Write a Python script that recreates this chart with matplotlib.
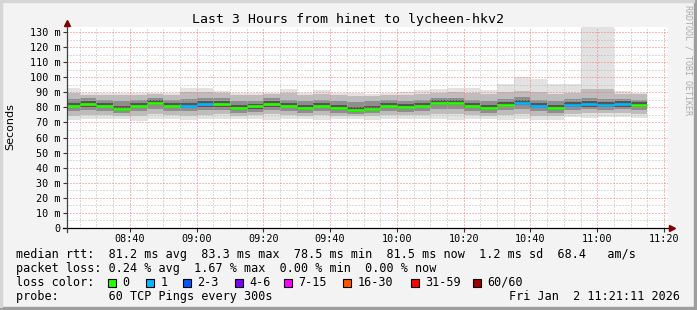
import matplotlib
matplotlib.use('Agg')
from matplotlib import pyplot as plt
from matplotlib.patches import Rectangle
import numpy as np

# 300s steps, first one starts 08:20 (partly cut by the 3h window)
first_step = "08:20"
step_min = 5
window_end = "11:21:11"
window_hours = 3

median_ms = [81.1, 82.2, 81.1, 79.0, 81.1, 83.0, 81.1, 81.1, 82.2, 82.2,
             79.7, 80.6, 82.4, 81.2, 79.4, 81.2, 79.4, 78.4, 79.0, 81.0,
             80.4, 81.0, 83.0, 83.0, 81.0, 79.7, 81.6, 83.1, 81.0, 79.4,
             81.6, 82.2, 81.6, 82.2, 81.6]
lost_pings = [0, 0, 0, 0, 0, 0, 0, 1, 1, 0,
              0, 0, 0, 0, 0, 0, 0, 0, 0, 0,
              0, 0, 0, 0, 0, 0, 0, 1, 1, 0,
              1, 1, 1, 1, 0]
max_ms = [92.8, 89.8, 89.8, 89.8, 89.8, 89.8, 89.8, 92.8, 92.8, 91.0,
          89.8, 89.8, 89.8, 92.0, 89.8, 91.5, 89.8, 89.5, 89.0, 89.8,
          90.5, 91.5, 92.5, 93.0, 92.8, 91.5, 95.5, 100.3, 98.8, 95.5,
          95.5, 140.0, 140.0, 90.8, 89.8]
p90_ms = [89.5, 88.5, 88.5, 88.0, 88.5, 89.0, 88.5, 90.0, 90.0, 89.5,
          88.0, 88.5, 89.0, 89.5, 88.0, 89.0, 88.0, 87.5, 87.5, 88.5,
          88.5, 89.0, 89.5, 90.0, 89.5, 89.0, 90.0, 91.0, 90.5, 89.0,
          89.5, 92.0, 92.0, 89.0, 89.0]
p75_ms = [85.5, 86.0, 85.0, 84.0, 85.0, 86.5, 85.0, 85.5, 86.0, 86.0,
          84.0, 84.5, 86.0, 85.0, 84.0, 85.0, 84.0, 83.5, 84.0, 85.0,
          84.5, 85.0, 86.5, 86.5, 85.0, 84.0, 85.5, 87.0, 85.0, 84.0,
          85.5, 86.5, 85.5, 85.5, 85.0]
p60_ms = [83.0, 84.0, 83.0, 81.0, 83.0, 85.0, 83.0, 83.0, 84.0, 84.0,
          81.5, 82.5, 84.0, 83.0, 81.5, 83.0, 81.5, 80.5, 81.0, 83.0,
          82.5, 83.0, 85.0, 85.0, 83.0, 81.5, 83.5, 85.0, 83.0, 81.5,
          83.5, 84.0, 83.5, 84.0, 83.5]
p40_ms = [79.5, 80.5, 79.5, 77.5, 79.5, 81.5, 79.5, 79.5, 80.5, 80.5,
          78.0, 79.0, 80.5, 79.5, 78.0, 79.5, 78.0, 77.0, 77.5, 79.5,
          79.0, 79.5, 81.5, 81.5, 79.5, 78.0, 80.0, 81.5, 79.5, 78.0,
          80.0, 80.5, 80.0, 80.5, 80.0]
p25_ms = [77.5, 78.5, 77.5, 76.0, 77.5, 79.0, 77.5, 77.5, 78.5, 78.5,
          76.5, 77.0, 78.5, 77.5, 76.0, 77.5, 76.0, 75.5, 76.0, 77.5,
          77.0, 77.5, 79.0, 79.0, 77.5, 76.5, 78.0, 79.0, 77.5, 76.0,
          78.5, 79.0, 78.5, 79.0, 78.5]
p10_ms = [74.5, 75.0, 75.0, 74.0, 74.5, 75.5, 75.0, 74.5, 75.0, 75.5,
          74.5, 75.0, 75.5, 75.0, 74.5, 75.0, 74.0, 74.0, 74.5, 75.0,
          75.0, 75.0, 75.5, 75.5, 75.0, 74.5, 75.0, 75.5, 74.5, 74.0,
          75.5, 76.0, 76.0, 76.0, 75.5]
min_ms = [71.5, 72.0, 72.5, 72.0, 71.0, 72.0, 72.5, 71.5, 72.0, 72.0,
          72.5, 72.0, 71.5, 72.5, 72.0, 71.5, 72.0, 72.5, 71.5, 72.0,
          72.5, 72.0, 72.0, 71.5, 72.5, 72.0, 71.8, 72.0, 71.5, 71.5,
          73.5, 73.0, 73.8, 73.5, 73.0]

loss_labels = ["0", "1", "2-3", "4-6", "7-15", "16-30", "31-59", "60/60"]
loss_colors = ["#26ff00", "#00b8ff", "#0059ff", "#7e00ff",
               "#ff00ff", "#ff5500", "#ff0000", "#a10000"]

title = "Last 3 Hours from hinet to lycheen-hkv2"
rtt_line = "median rtt:  81.2 ms avg  83.3 ms max  78.5 ms min  81.5 ms now  1.2 ms sd  68.4   am/s"
loss_line = "packet loss: 0.24 % avg  1.67 % max  0.00 % min  0.00 % now"
probe_line = "probe:       60 TCP Pings every 300s"
date_text = "Fri Jan  2 11:21:11 2026"

W, H = 697, 310
MONO = 'DejaVu Sans Mono'


def fx(px):
    return px / W


def fy(py):
    return 1 - py / H


def to_min(s):
    p = [int(v) for v in s.split(":")]
    return p[0] * 60 + p[1] + (p[2] / 60 if len(p) > 2 else 0)


t1 = to_min(window_end)
t0 = t1 - window_hours * 60
n = len(median_ms)
starts = to_min(first_step) + step_min * np.arange(n)

fig = plt.figure(figsize=(W / 100, H / 100), dpi=100, facecolor='#f3f3f3')

# 3d-ish frame of the image
fig.patches.append(Rectangle((0, 0), 1, 3 / H, transform=fig.transFigure, color='#9e9e9e', zorder=0))
fig.patches.append(Rectangle((fx(W - 3), 0), 3 / W, 1, transform=fig.transFigure, color='#9e9e9e', zorder=0))
fig.patches.append(Rectangle((0, fy(2)), fx(W - 3), 2 / H, transform=fig.transFigure, color='#d6d6d6', zorder=0))
fig.patches.append(Rectangle((0, 3 / H), 2 / W, 1, transform=fig.transFigure, color='#d6d6d6', zorder=0))

y_top = (228 - 26.7) / 1.508
ax = fig.add_axes([fx(67), fy(228), fx(668) - fx(67), fy(26.7) - fy(228)])
ax.set_facecolor('white')
ax.set_xlim(t0, t1)
ax.set_ylim(0, y_top)
for s in ax.spines.values():
    s.set_visible(False)

# smoke
levels = [(min_ms, max_ms, '#e2e2e2'), (p10_ms, p90_ms, '#bdbdbd'),
          (p25_ms, p75_ms, '#8e8e8e'), (p40_ms, p60_ms, '#555555')]
for lo, hi, c in levels:
    lo = np.array(lo)
    ax.bar(starts, np.array(hi) - lo, bottom=lo, width=step_min, align='edge',
           color=c, linewidth=0, zorder=1)


# median, coloured by loss
def loss_idx(l):
    bounds = [0, 1, 3, 6, 15, 30, 59, 60]
    for k, b in enumerate(bounds):
        if l <= b:
            return k
    return 7


cols = [loss_colors[loss_idx(l)] for l in lost_pings]
ax.hlines(median_ms, starts, starts + step_min, colors=cols, lw=1.9,
          capstyle='butt', zorder=3)

# grid
ax.set_xticks(np.arange(520, 681, 20))
ax.set_xticks(np.arange(505, 681, 5), minor=True)
ax.set_yticks(np.arange(0, 131, 10))
ax.set_yticks(np.arange(5, 131, 10), minor=True)
ax.set_axisbelow(False)
ax.grid(which='minor', color='#b8b8b8', ls=(0, (1, 2)), lw=0.72)
ax.grid(which='major', color='#ff7070', ls=(0, (1, 2)), lw=0.72)
ax.set_xticklabels(["%02d:%02d" % (m // 60, m % 60) for m in np.arange(520, 681, 20)],
                   family=MONO, fontsize=7.3)
ax.set_yticklabels(["%d m" % v if v else "0" for v in range(0, 131, 10)],
                   family=MONO, fontsize=7.3)
ax.tick_params(which='major', length=3, width=0.8, color='#333333', pad=1.5)
ax.tick_params(which='minor', length=0)

# axes with arrows
px_min = 180 / 600
ax.plot([t0 - 4 * px_min, t0 + 602 * px_min], [0, 0], color='black', lw=0.9,
        clip_on=False, zorder=4)
ax.plot([t0, t0], [-4 / 1.508, y_top + 1], color='#404040', lw=0.9,
        clip_on=False, zorder=4)
ax.plot([t0 + 604 * px_min], [0], marker='>', color='#7f0000', ms=4.5, clip_on=False, zorder=5)
ax.plot([t0], [y_top + 2.2], marker='^', color='#7f0000', ms=4.5, clip_on=False, zorder=5)

# texts
fig.text(fx(348.5), fy(19), title, family=MONO, fontsize=9.5, ha='center', va='center')
fig.text(fx(10), fy(127), "Seconds", fontsize=8, rotation=90, ha='center', va='center')
fig.text(fx(688), fy(60), "RRDTOOL / TOBI OETIKER", family=MONO, fontsize=6,
         rotation=270, ha='center', va='center', color='#ababab')

row_y = [254.3, 268.3, 282.3, 296.3]
fig.text(fx(16), fy(row_y[0]), rtt_line, family=MONO, fontsize=8.5, va='center')
fig.text(fx(16), fy(row_y[1]), loss_line, family=MONO, fontsize=8.5, va='center')
fig.text(fx(16), fy(row_y[2]), "loss color:", family=MONO, fontsize=8.5, va='center')
box_x = [108, 146, 183, 235, 284, 343, 411, 473]
for x, lab, c in zip(box_x, loss_labels, loss_colors):
    fig.patches.append(Rectangle((fx(x), fy(286.5)), 8 / W, 8 / H,
                                 transform=fig.transFigure, facecolor=c,
                                 edgecolor='black', lw=0.8, zorder=3))
    fig.text(fx(x + 14.5), fy(row_y[2]), lab, family=MONO, fontsize=8.5, va='center')
fig.text(fx(16), fy(row_y[3]), probe_line, family=MONO, fontsize=8.5, va='center')
fig.text(fx(680), fy(row_y[3]), date_text, family=MONO, fontsize=8.5, va='center', ha='right')

fig.savefig('out.png', dpi=100, facecolor=fig.get_facecolor())
